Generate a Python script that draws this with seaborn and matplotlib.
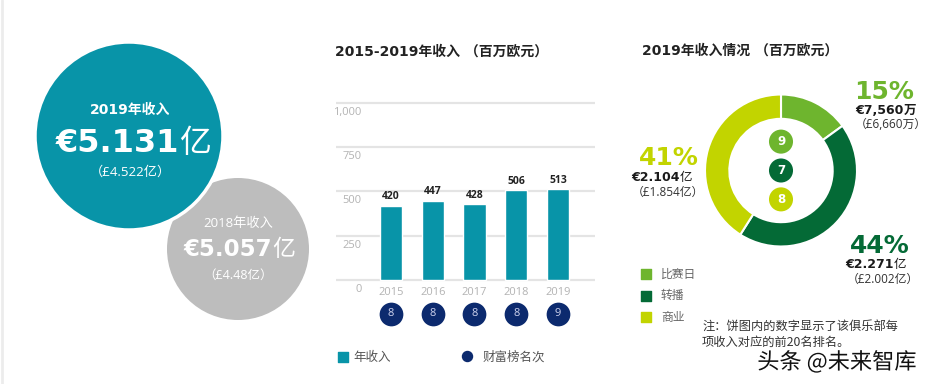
import matplotlib
matplotlib.use('Agg')
import matplotlib.pyplot as plt
import matplotlib.patheffects as pe
import matplotlib.transforms as mtransforms
from matplotlib.patches import Circle
import numpy as np
import seaborn as sns

# data
years = ['2015', '2016', '2017', '2018', '2019']
revenue = [420, 447, 428, 506, 513]
rich_rank = [8, 8, 8, 8, 9]
y_ticks = [0, 250, 500, 750, 1000]
y_tick_labels = ['0', '250', '500', '750', '1,000']

segments = ['比赛日', '转播', '商业']
shares = [15, 44, 41]
segment_rank = [9, 7, 8]
segment_eur = ['€7,560', '€2.271', '€2.104']
segment_unit = ['万', '亿', '亿']
segment_gbp = ['（£6,660万）', '（£2.002亿）', '（£1.854亿）']

rev_2019 = ('€5.131', '亿', '（£4.522亿）')
rev_2018 = ('€5.057', '亿', '（£4.48亿）')

TEAL = '#0894a8'
GREY = '#bdbdbd'
NAVY = '#0c2a6e'
SEG_COLORS = ['#6eb52e', '#046a36', '#c2d400']
CJK = 'Noto Sans CJK SC'
LATIN = ['Open Sans', CJK]
BOLD = ['DejaVu Sans', CJK]

sns.set_theme(style='white')
plt.rcParams['font.family'] = ['Open Sans', CJK, 'DejaVu Sans']

W, H = 934, 384
fig = plt.figure(figsize=(W / 100, H / 100), dpi=100)


def px_axes(x0, y0, w, h):
    return fig.add_axes([x0 / W, 1 - (y0 + h) / H, w / W, h / H])


overlay = fig.add_axes([0, 0, 1, 1])
overlay.set_xlim(0, W)
overlay.set_ylim(H, 0)
overlay.axis('off')
overlay.axvline(2, color='#ececec', lw=2)

# headline circles
overlay.add_patch(Circle((238, 249), 71, color=GREY, lw=0))
overlay.add_patch(Circle((129, 136), 94, facecolor=TEAL, edgecolor='white', lw=2.5))

renderer = fig.canvas.get_renderer()


def split_text(x, y, num, unit, size, color, unit_weight='normal'):
    t1 = overlay.text(0, y, num, fontsize=size, color=color, fontweight='bold',
                      family=BOLD, ha='left', va='baseline')
    t2 = overlay.text(0, y, unit, fontsize=size, color=color, fontweight=unit_weight,
                      family=[CJK], ha='left', va='baseline')
    w1 = t1.get_window_extent(renderer).width
    w2 = t2.get_window_extent(renderer).width
    start = x - (w1 + w2) / 2
    t1.set_x(start)
    t2.set_x(start + w1)


overlay.text(130, 110, '2019年收入', fontsize=10, color='white', fontweight='bold',
             family=BOLD, ha='center', va='center')
split_text(133, 152, rev_2019[0], rev_2019[1], 23, 'white')
overlay.text(130, 172, rev_2019[2], fontsize=9.5, color='white', ha='center', va='center')

overlay.text(238, 224, '2018年收入', fontsize=9.5, color='white', ha='center', va='center')
split_text(239, 256, rev_2018[0], rev_2018[1], 16.5, 'white')
overlay.text(238, 275, rev_2018[2], fontsize=9, color='white', ha='center', va='center')

# bar chart
overlay.text(335, 52, '2015-2019年收入 （百万欧元）', fontsize=10, fontweight='bold',
             family=BOLD, color='#222222', ha='left', va='center')

px_per_unit = 177 / 1000
margin = 15
bar_ax = px_axes(336, 103 - margin * px_per_unit, 259, 177 + 2 * margin * px_per_unit)
bar_ax.set_facecolor('none')
sns.barplot(x=years, y=revenue, color=TEAL, saturation=1, width=0.53, ax=bar_ax)
xlim = (-1.317, 4.886)
bar_ax.set_xlim(*xlim)
bar_ax.set_ylim(-margin, 1000 + margin)
bar_ax.set_yticks(y_ticks)
bar_ax.set_yticklabels([])
bar_ax.yaxis.grid(True, color='#e4e4e4', linewidth=1.6)
bar_ax.xaxis.grid(False)
bar_ax.set_axisbelow(True)
sns.despine(ax=bar_ax, left=True, bottom=True)
bar_ax.tick_params(axis='y', length=0)
bar_ax.tick_params(axis='x', length=0, pad=3, labelsize=8, labelcolor='#b3b3b3')
bar_ax.set_xlabel('')
bar_ax.set_ylabel('')
bar_ax.bar_label(bar_ax.containers[0], padding=2.5, fontsize=7.5, fontweight='bold',
                 color='#222222', family=LATIN)

lbl_trans = mtransforms.blended_transform_factory(bar_ax.transAxes, bar_ax.transData) + \
    mtransforms.ScaledTranslation(0, -0.095, fig.dpi_scale_trans)
for val, lab in zip(y_ticks, y_tick_labels):
    bar_ax.text(0.1, val, lab, transform=lbl_trans, fontsize=8, color='#b3b3b3',
                ha='right', va='center')

rank_ax = px_axes(336, 303, 259, 22)
rank_ax.set_facecolor('none')
sns.scatterplot(x=years, y=np.zeros(len(years)), s=250, color=NAVY, edgecolor=NAVY,
                ax=rank_ax, legend=False, clip_on=False)
rank_ax.set_xlim(*xlim)
rank_ax.set_ylim(-1, 1)
rank_ax.axis('off')
for i, r in enumerate(rich_rank):
    rank_ax.text(i, 0, str(r), fontsize=8, color='#cfd3ee', ha='center', va='center')

overlay.scatter([343], [357], marker='s', s=52, color=TEAL)
overlay.text(353, 357, '年收入', fontsize=9, color='#555555', family=[CJK], ha='left', va='center')
overlay.scatter([467], [356], marker='o', s=52, color=NAVY)
overlay.text(483, 357, '财富榜名次', fontsize=9, color='#555555', family=[CJK], ha='left', va='center')

# donut
overlay.text(642, 51, '2019年收入情况 （百万欧元）', fontsize=10, fontweight='bold',
             family=BOLD, color='#222222', ha='left', va='center')

donut_ax = px_axes(705, 94.5, 152, 152)
donut_ax.pie(shares, colors=SEG_COLORS, startangle=90, counterclock=False, radius=1,
             wedgeprops=dict(width=0.32, edgecolor='white', linewidth=1.5))
sns.scatterplot(x=np.zeros(len(segments)), y=(1 - np.arange(len(segments))) * 0.38,
                hue=segments, palette=SEG_COLORS, s=300, edgecolor='none',
                ax=donut_ax, legend=False)
for i, r in enumerate(segment_rank):
    donut_ax.text(0, (1 - i) * 0.38, str(r), fontsize=8.5, fontweight='bold',
                  color='white', ha='center', va='center', family=BOLD)
donut_ax.set_xlim(-1, 1)
donut_ax.set_ylim(-1, 1)
donut_ax.set_aspect('equal')
donut_ax.axis('off')

# label anchors: (pct centre x, pct y, eur centre x, eur baseline, gbp centre x, gbp y)
label_pos = [(884, 92, 886, 114, 891, 125),
             (880, 246, 876, 268, 883, 279),
             (669, 158, 662, 181, 668, 192)]
for i, (px, py, ex, ey, gx, gy) in enumerate(label_pos):
    overlay.text(px, py, f'{shares[i]}%', fontsize=18, fontweight='bold', family=BOLD,
                 color=SEG_COLORS[i], ha='center', va='center')
    split_text(ex, ey, segment_eur[i], segment_unit[i], 9, '#1a1a1a',
               unit_weight='bold' if segment_unit[i] == '万' else 'normal')
    overlay.text(gx, gy, segment_gbp[i], fontsize=8.5, color='#333333',
                 ha='center', va='center')

for i, name in enumerate(segments):
    y = 274 + i * 21.5
    overlay.scatter([646], [y], marker='s', s=42, color=SEG_COLORS[i])
    overlay.text(661, y, name, fontsize=8.5, color='#666666', family=[CJK],
                 ha='left', va='center')

overlay.text(702, 326, '注：饼图内的数字显示了该俱乐部每', fontsize=8.8, color='#333333',
             family=[CJK], ha='left', va='center')
overlay.text(702, 342, '项收入对应的前20名排名。', fontsize=8.8, color='#333333',
             family=[CJK], ha='left', va='center')

overlay.text(837, 362, '头条 @未来智库', fontsize=16, color='#111111', family=[CJK],
             ha='center', va='center',
             path_effects=[pe.withStroke(linewidth=3, foreground='white')])

fig.savefig('out.png', dpi=100)
